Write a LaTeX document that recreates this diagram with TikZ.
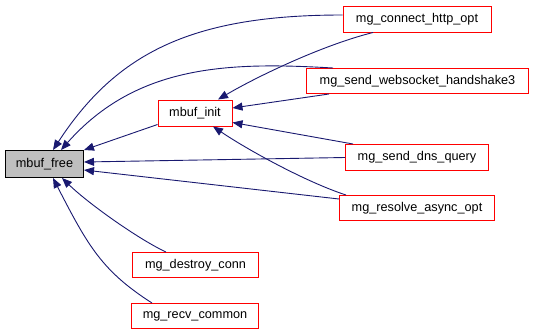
\documentclass[tikz,border=0pt]{standalone}
\usepackage{fontspec}
\setmainfont{Liberation Sans}
\usetikzlibrary{arrows.meta}
\definecolor{edgecol}{RGB}{25,25,112}
\definecolor{boxred}{RGB}{255,0,0}
\definecolor{boxgray}{RGB}{191,191,191}
\begin{document}
\begin{tikzpicture}[x=1pt,y=-1pt,
  fn/.style={draw=boxred,line width=1pt,fill=white,text=black,inner sep=0pt,
    font=\fontsize{12.7}{15}\selectfont},
  root/.style={draw=black,line width=1pt,fill=boxgray,text=black,inner sep=0pt,
    font=\fontsize{12.7}{15}\selectfont},
  call/.style={draw=edgecol,line width=0.9pt,
    -{Triangle[length=10pt,width=8pt]}}]
\useasboundingbox (0,0) rectangle (533,335);
\node[fn,minimum width=148pt,minimum height=26pt] (connect) at (417,19) {mg\_connect\_http\_opt};
\node[fn,minimum width=222pt,minimum height=25pt] (ws) at (417.5,81) {mg\_send\_websocket\_handshake3};
\node[fn,minimum width=74pt,minimum height=26pt] (init) at (195,113) {mbuf\_init};
\node[root,minimum width=78pt,minimum height=27pt] (free) at (44.5,164) {mbuf\_free};
\node[fn,minimum width=143pt,minimum height=26pt] (dns) at (417,157.5) {mg\_send\_dns\_query};
\node[fn,minimum width=155pt,minimum height=25pt] (resolve) at (417,208) {mg\_resolve\_async\_opt};
\node[fn,minimum width=126pt,minimum height=25pt] (destroy) at (195.5,265) {mg\_destroy\_conn};
\node[fn,minimum width=127pt,minimum height=25pt] (recv) at (195,316) {mg\_recv\_common};
% edges to mbuf_free
\draw[call] ([yshift=4pt]connect.west) .. controls (193,15) and (117,52) .. ([xshift=8.5pt]free.north);
\draw[call] ([xshift=-84.5pt]ws.north) .. controls (230,62) and (137,64) .. ([xshift=16.5pt]free.north);
\draw[call] ([yshift=2pt]init.south west) -- (free.north east);
\draw[call] (dns.west) -- ([yshift=2pt]free.east);
\draw[call] ([yshift=9pt]resolve.west) -- ([yshift=-6pt]free.east);
\draw[call] ([xshift=-29.5pt]destroy.north) .. controls (140,240) and (90,205) .. ([xshift=17.5pt]free.south);
\draw[call] ([xshift=-43pt]recv.north) .. controls (102,271) and (88,246) .. ([xshift=8.5pt]free.south);
% edges to mbuf_init
\draw[call] ([xshift=-44pt]connect.south) .. controls (323,45) and (258,76) .. ([xshift=23pt]init.north);
\draw[call] ([xshift=-88.5pt]ws.south) -- ([yshift=5pt]init.east);
\draw[call] ([xshift=-64pt]dns.north) -- ([yshift=-9.5pt]init.east);
\draw[call] ([xshift=-71pt]resolve.north) .. controls (306,182) and (248,150) .. ([xshift=18pt]init.south);
\end{tikzpicture}
\end{document}
